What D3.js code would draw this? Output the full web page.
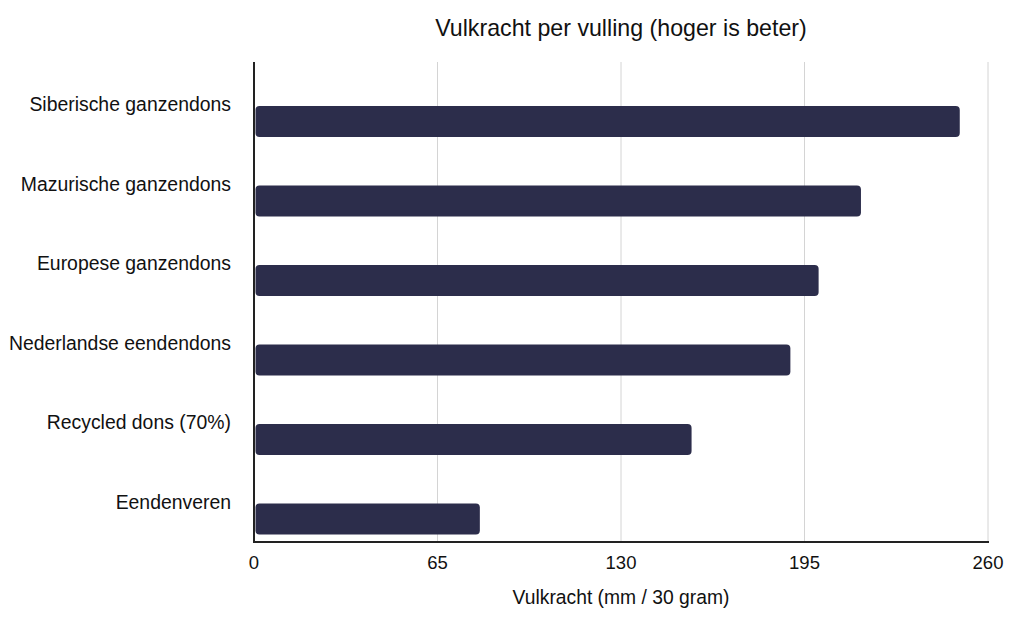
<!DOCTYPE html>
<html>
<head>
<meta charset="utf-8">
<script src="https://cdn.jsdelivr.net/npm/d3@7"></script>
<style>
  body { margin: 0; background: #fff; }
  svg { font-family: "Liberation Sans", Arial, Helvetica, sans-serif; }
</style>
</head>
<body>
<svg width="1024" height="631"></svg>
<script>
// data
const categories = ["Siberische ganzendons", "Mazurische ganzendons", "Europese ganzendons",
                    "Nederlandse eendendons", "Recycled dons (70%)", "Eendenveren"];
const values = [250, 215, 200, 190, 155, 80];
const ticks = [0, 65, 130, 195, 260];

var svg = d3.select("svg"),
    plotLeft = 254, plotRight = 988, plotTop = 62, plotBottom = 542;

var x = d3.scaleLinear().domain([0, 260]).range([plotLeft, plotRight]);
var y = d3.scaleBand().domain(categories).range([plotTop, 539]);

// gridlines
svg.append("g")
  .selectAll("line")
  .data(ticks.slice(1))
  .join("line")
    .attr("x1", d => x(d)).attr("x2", d => x(d))
    .attr("y1", plotTop).attr("y2", plotBottom)
    .attr("stroke", "#d4d4d4")
    .attr("stroke-width", 1);

// bars
svg.append("g")
  .selectAll("rect")
  .data(values)
  .join("rect")
    .attr("x", x(0) + 1.5)
    .attr("y", (d, i) => y(categories[i]) + 44)
    .attr("width", d => x(d) - x(0) - 1.5)
    .attr("height", 31)
    .attr("rx", 4)
    .attr("fill", "#2c2d4b");

// axes lines
svg.append("line")
  .attr("x1", plotLeft).attr("x2", plotLeft)
  .attr("y1", plotTop).attr("y2", plotBottom)
  .attr("stroke", "#222").attr("stroke-width", 2);
svg.append("line")
  .attr("x1", plotLeft - 1).attr("x2", plotRight + 1)
  .attr("y1", plotBottom).attr("y2", plotBottom)
  .attr("stroke", "#222").attr("stroke-width", 2);

// category labels
svg.append("g")
  .selectAll("text")
  .data(categories)
  .join("text")
    .attr("x", 231)
    .attr("y", d => y(d) + 49)
    .attr("text-anchor", "end")
    .attr("font-size", 19.4)
    .attr("fill", "#111")
    .text(d => d);

// tick labels
svg.append("g")
  .selectAll("text")
  .data(ticks)
  .join("text")
    .attr("x", d => x(d))
    .attr("y", 569)
    .attr("text-anchor", "middle")
    .attr("font-size", 18.5)
    .attr("fill", "#111")
    .text(d => d);

// title
svg.append("text")
  .attr("x", 621).attr("y", 36)
  .attr("text-anchor", "middle")
  .attr("font-size", 23.2)
  .attr("fill", "#111")
  .text("Vulkracht per vulling (hoger is beter)");

// x axis title
svg.append("text")
  .attr("x", 621).attr("y", 604)
  .attr("text-anchor", "middle")
  .attr("font-size", 19.3)
  .attr("fill", "#111")
  .text("Vulkracht (mm / 30 gram)");
</script>
</body>
</html>
